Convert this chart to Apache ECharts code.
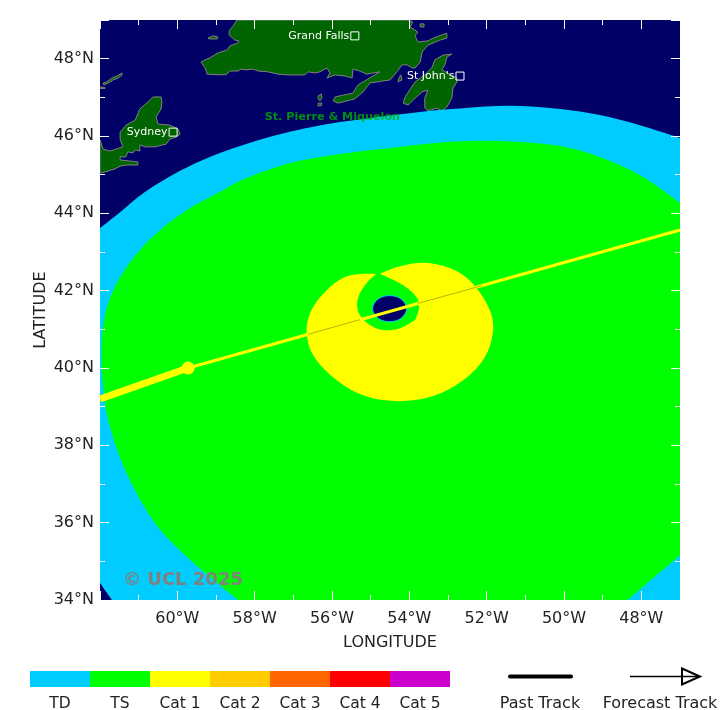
<!DOCTYPE html>
<html>
<head>
<meta charset="utf-8">
<style>
  html, body { margin: 0; padding: 0; background: #fff; }
  #chart { width: 720px; height: 710px; }
</style>
<script src="https://cdn.jsdelivr.net/npm/echarts@6/dist/echarts.min.js"></script>
</head>
<body>
<div id="chart"></div>
<script>
// wind swath contours, [lon, lat]
const tdSwath = [[-62,43.62],[-61.48,44.03],[-60.84,44.55],[-59.93,45.10],[-59.16,45.46],[-58.38,45.74],[-57.53,46.00],[-56.65,46.21],[-55.79,46.36],[-54.50,46.53],[-53.39,46.66],[-52.61,46.72],[-51.40,46.78],[-50.10,46.70],[-49.07,46.54],[-48.04,46.28],[-47,45.95],[-47,34],[-61.69,34],[-62,34.44]];
const tsSwath = [[-58.43,34],[-59.67,35.04],[-60.58,35.99],[-61.35,37.36],[-61.79,38.66],[-61.92,39.56],[-61.96,40.21],[-61.95,40.78],[-61.87,41.37],[-61.74,41.81],[-61.48,42.35],[-60.97,43.05],[-60.32,43.67],[-59.67,44.14],[-58.82,44.60],[-58.38,44.84],[-57.94,45.02],[-57.09,45.30],[-56.23,45.47],[-55.35,45.59],[-54.50,45.69],[-52.95,45.85],[-51.66,45.87],[-50.10,45.74],[-49.07,45.46],[-48.04,44.99],[-47,44.27],[-47,35.16],[-48.35,34]];
const cat1Swath = [[-54.76,42.43],[-54.32,42.61],[-53.65,42.72],[-53.03,42.61],[-52.51,42.33],[-52.10,41.84],[-51.86,41.32],[-51.84,40.91],[-51.99,40.39],[-52.35,39.90],[-52.87,39.51],[-53.47,39.25],[-54.06,39.15],[-54.68,39.17],[-55.28,39.33],[-55.79,39.62],[-56.23,40.00],[-56.52,40.39],[-56.63,40.72],[-56.65,41.11],[-56.49,41.58],[-56.13,42.02],[-55.72,42.33],[-55.28,42.43],[-54.86,42.43],[-55.10,42.20],[-55.30,41.89],[-55.35,41.63],[-55.28,41.37],[-55.02,41.11],[-54.68,40.98],[-54.24,41.03],[-53.85,41.24],[-53.75,41.55],[-53.80,41.81],[-54.06,42.07],[-54.42,42.28]];
const eyeCalm = [[-54.07,41.53],[-54.13,41.37],[-54.29,41.24],[-54.51,41.20],[-54.73,41.24],[-54.89,41.37],[-54.95,41.53],[-54.89,41.70],[-54.73,41.83],[-54.51,41.87],[-54.29,41.83],[-54.13,41.70]];

// land
const newfoundland = [[-58.46,49],[-58.56,48.84],[-58.66,48.72],[-58.66,48.61],[-58.51,48.48],[-58.41,48.46],[-58.43,48.41],[-58.64,48.33],[-58.72,48.22],[-58.95,48.15],[-59.16,48.02],[-59.28,47.97],[-59.39,47.91],[-59.28,47.76],[-59.23,47.60],[-58.85,47.58],[-58.72,47.60],[-58.64,47.68],[-58.43,47.68],[-58.35,47.73],[-58.25,47.71],[-58.04,47.73],[-57.91,47.68],[-57.66,47.66],[-57.40,47.60],[-57.14,47.58],[-56.96,47.58],[-56.70,47.58],[-56.62,47.66],[-56.44,47.63],[-56.31,47.66],[-56.13,47.76],[-56.05,47.63],[-56.13,47.50],[-55.92,47.58],[-55.66,47.55],[-55.48,47.50],[-55.46,47.73],[-55.28,47.68],[-55.10,47.60],[-54.76,47.66],[-55.33,47.32],[-55.46,47.11],[-55.92,47.01],[-55.97,46.91],[-55.85,46.85],[-55.41,46.96],[-55.20,47.14],[-55.02,47.37],[-54.50,47.45],[-54.32,47.66],[-54.19,47.84],[-54.06,47.84],[-53.93,47.76],[-53.85,47.76],[-53.72,47.91],[-53.67,48.17],[-53.52,48.35],[-53.21,48.48],[-53.03,48.53],[-53.03,48.66],[-53.39,48.53],[-53.52,48.46],[-53.78,48.43],[-53.85,48.59],[-53.78,48.69],[-53.98,48.82],[-53.91,48.95],[-54.03,49]];
const avalon = [[-52.90,48.12],[-53.13,48.09],[-53.34,47.97],[-53.41,47.78],[-53.60,47.58],[-53.85,47.40],[-54.11,47.01],[-54.16,46.85],[-54.03,46.80],[-53.85,46.98],[-53.67,47.14],[-53.52,47.19],[-53.60,46.98],[-53.60,46.72],[-53.52,46.65],[-53.29,46.72],[-53.16,46.65],[-53.03,46.75],[-52.90,46.98],[-52.87,47.24],[-52.77,47.40],[-52.77,47.50],[-53.16,47.71],[-53.08,47.84],[-53.03,48.04]];
const capeBreton = [[-62,45.90],[-61.92,45.66],[-61.74,45.61],[-61.59,45.66],[-61.41,45.72],[-61.48,45.92],[-61.48,46.10],[-61.33,46.28],[-61.09,46.41],[-60.97,46.70],[-60.76,46.88],[-60.63,47.01],[-60.42,47.01],[-60.40,46.88],[-60.42,46.70],[-60.55,46.49],[-60.50,46.31],[-60.19,46.28],[-59.98,46.18],[-59.93,46.05],[-60.03,45.97],[-60.19,45.92],[-60.29,45.79],[-60.58,45.72],[-60.84,45.72],[-60.97,45.77],[-60.97,45.61],[-61.09,45.64],[-61.15,45.56],[-61.28,45.59],[-61.33,45.46],[-61.48,45.46],[-61.48,45.38],[-61.02,45.33],[-61.02,45.25],[-61.33,45.25],[-61.48,45.22],[-61.61,45.15],[-61.87,45.07],[-62,45.04]];
const smallIslands = [
  [[-59.21,48.53],[-59.08,48.59],[-58.95,48.56],[-58.97,48.51],[-59.16,48.51]],
  [[-54.22,47.58],[-54.19,47.45],[-54.29,47.40],[-54.27,47.50]],
  [[-56.36,47.03],[-56.28,47.09],[-56.26,46.98],[-56.31,46.91],[-56.36,46.96]],
  [[-56.36,46.85],[-56.26,46.85],[-56.28,46.78],[-56.36,46.78]],
  [[-61.43,47.63],[-61.56,47.55],[-61.69,47.50],[-61.82,47.40],[-61.92,47.37],[-61.90,47.32],[-61.79,47.37],[-61.66,47.45],[-61.53,47.50],[-61.43,47.58]],
  [[-62,47.27],[-61.87,47.25],[-61.87,47.23],[-62,47.23]],
  [[-53.72,48.90],[-53.62,48.90],[-53.62,48.82],[-53.72,48.82]]
];

// storm track
const pastTrack = [[-62,39.20],[-59.72,40.00]];
const forecastTrack = [[-59.72,40.00],[-47,43.57]];
const trackEdgeWest = [[-56.62,40.87],[-55.28,41.25]];
const trackEdgeEast = [[-53.78,41.67],[-52.12,42.13]];
const stormNow = [[-59.72,40.00]];

// places
const cityNames = ["Grand Falls", "St John's", "Sydney"];
const cityPoints = [[-55.41,48.59],[-52.69,47.55],[-60.11,46.10]];
const regionName = "St. Pierre & Miquelon";
const regionPoint = [[-55.99,46.49]];

// axes and legend
const lonTicks = [-60, -58, -56, -54, -52, -50, -48];
const latTicks = [34, 36, 38, 40, 42, 44, 46, 48];
const categoryNames = ["TD", "TS", "Cat 1", "Cat 2", "Cat 3", "Cat 4", "Cat 5"];

const FONT = '"DejaVu Sans"';
const TEXT = '#222';
const NAVY = '#000066';
const LAND = '#006400';
const COAST = '#808080';
const categoryColors = ['#00ccff', '#00ff00', '#ffff00', '#ffcc00', '#ff6600', '#ff0000', '#cc00cc'];

// closed curve through the screen points, turns above cornerTurn stay sharp
const curvePath = (pts, cornerTurn) => {
  const n = pts.length;
  const tangents = pts.map((p, i) => {
    const a = pts[(i - 1 + n) % n];
    const b = pts[(i + 1) % n];
    const turn = Math.abs(Math.atan2(
      (p[0] - a[0]) * (b[1] - p[1]) - (p[1] - a[1]) * (b[0] - p[0]),
      (p[0] - a[0]) * (b[0] - p[0]) + (p[1] - a[1]) * (b[1] - p[1])
    ));
    if (turn > cornerTurn) {
      return [0, 0];
    }
    const len = Math.hypot(b[0] - a[0], b[1] - a[1]);
    return [(b[0] - a[0]) / len, (b[1] - a[1]) / len];
  });
  let d = 'M' + pts[0][0] + ' ' + pts[0][1];
  pts.forEach((p, i) => {
    const j = (i + 1) % n;
    const q = pts[j];
    const k = Math.hypot(q[0] - p[0], q[1] - p[1]) / 3;
    d += 'C' + (p[0] + tangents[i][0] * k) + ' ' + (p[1] + tangents[i][1] * k) + ' '
      + (q[0] - tangents[j][0] * k) + ' ' + (q[1] - tangents[j][1] * k) + ' ' + q[0] + ' ' + q[1];
  });
  return d + 'Z';
};

// a filled shape in lon/lat, placed with the chart's own axes
const shapeSeries = (points, fill, stroke, lineWidth, cornerTurn) => {
  return {
    type: 'custom',
    clip: true,
    silent: true,
    animation: false,
    encode: { x: 0, y: 1 },
    data: points,
    renderItem: function (params, api) {
      if (params.dataIndex !== 0) {
        return;
      }
      const pts = points.map(p => api.coord(p));
      const style = { fill: fill, stroke: stroke || null, lineWidth: lineWidth || 0 };
      if (cornerTurn) {
        return { type: 'path', shape: { pathData: curvePath(pts, cornerTurn) }, style: style };
      }
      return { type: 'polygon', shape: { points: pts }, style: style };
    }
  };
};

const lineSeries = (points, color, width) => {
  return {
    type: 'line',
    data: points,
    symbol: 'none',
    silent: true,
    animation: false,
    lineStyle: { color: color, width: width, cap: 'butt' }
  };
};

const lonAxis = (position, showText) => {
  return {
    type: 'value',
    position: position,
    min: -62,
    max: -47,
    interval: 2,
    z: 10,
    name: showText ? 'LONGITUDE' : '',
    nameLocation: 'middle',
    nameGap: 35,
    nameMoveOverlap: false,
    nameTextStyle: { fontFamily: FONT, fontSize: 16, color: TEXT },
    splitLine: { show: false },
    axisLine: { show: false },
    axisTick: { show: true, inside: true, length: 9, lineStyle: { color: '#fff', width: 1 } },
    minorTick: { show: true, splitNumber: 2, length: 5, lineStyle: { color: '#fff', width: 1 } },
    axisLabel: {
      show: showText,
      margin: 11,
      fontFamily: FONT,
      fontSize: 16,
      color: TEXT,
      formatter: v => lonTicks.includes(v) ? Math.abs(v) + '°W' : ''
    }
  };
};

const latAxis = (position, showText) => {
  return {
    type: 'value',
    position: position,
    min: 34,
    max: 49,
    interval: 2,
    z: 10,
    name: showText ? 'LATITUDE' : '',
    nameLocation: 'middle',
    nameGap: 51,
    nameMoveOverlap: false,
    nameTextStyle: { fontFamily: FONT, fontSize: 16, color: TEXT },
    splitLine: { show: false },
    axisLine: { show: false },
    axisTick: { show: true, inside: true, length: 9, lineStyle: { color: '#fff', width: 1 } },
    minorTick: { show: true, splitNumber: 2, length: 5, lineStyle: { color: '#fff', width: 1 } },
    axisLabel: {
      show: showText,
      margin: 6,
      padding: [2, 0, 0, 0],
      fontFamily: FONT,
      fontSize: 16,
      color: TEXT,
      verticalAlignMinLabel: 'middle',
      verticalAlignMaxLabel: 'middle',
      formatter: v => latTicks.includes(v) ? v + '°N' : ''
    }
  };
};

let series = [];
[newfoundland, avalon, capeBreton].concat(smallIslands).forEach(shape => {
  series.push(shapeSeries(shape, LAND, COAST, 1));
});
series.push(shapeSeries(tdSwath, categoryColors[0], null, 0, 0.6));
series.push(shapeSeries(tsSwath, categoryColors[1], null, 0, 0.6));
series.push(shapeSeries(cat1Swath, categoryColors[2], null, 0, 0.6));
series.push(shapeSeries(eyeCalm, NAVY, categoryColors[0], 1, Math.PI));
series.push(lineSeries(pastTrack, categoryColors[2], 7));
series.push(lineSeries(forecastTrack, categoryColors[2], 3));
series.push(lineSeries(trackEdgeWest, '#b4b400', 1));
series.push(lineSeries(trackEdgeEast, '#b4b400', 1));
series.push({
  type: 'scatter',
  data: stormNow,
  symbolSize: 13,
  silent: true,
  animation: false,
  itemStyle: { color: categoryColors[2], opacity: 1 }
});
series.push({
  type: 'scatter',
  data: cityPoints,
  symbol: 'rect',
  symbolSize: 8,
  silent: true,
  animation: false,
  itemStyle: { color: 'rgba(0,0,0,0)', borderColor: '#fff', borderWidth: 1, opacity: 1 },
  label: {
    show: true,
    position: 'left',
    distance: 1,
    fontFamily: FONT,
    fontSize: 11,
    color: '#fff',
    formatter: p => cityNames[p.dataIndex]
  }
});
series.push({
  type: 'scatter',
  data: regionPoint,
  symbolSize: 0,
  silent: true,
  animation: false,
  label: {
    show: true,
    position: 'inside',
    fontFamily: FONT,
    fontSize: 11.2,
    fontWeight: 'bold',
    color: '#00b000',
    formatter: regionName
  }
});

// legend strip under the map
const legendText = (text, x, size) => {
  return {
    type: 'text',
    x: x,
    y: 704,
    style: { text: text, font: size + 'px ' + FONT, fill: TEXT, textAlign: 'center', textVerticalAlign: 'middle' }
  };
};
let legendGraphics = [];
categoryNames.forEach((name, i) => {
  legendGraphics.push({
    type: 'rect',
    left: 30 + 60 * i,
    top: 671,
    shape: { width: 60, height: 16 },
    style: { fill: categoryColors[i] }
  });
  legendGraphics.push(legendText(name, 60 + 60 * i, 15.5));
});
legendGraphics.push({
  type: 'line',
  shape: { x1: 510, y1: 676.5, x2: 571, y2: 676.5 },
  style: { stroke: '#000', lineWidth: 4, lineCap: 'round' }
});
legendGraphics.push(legendText('Past Track', 540, 16));
legendGraphics.push({
  type: 'line',
  shape: { x1: 630, y1: 676.5, x2: 699, y2: 676.5 },
  style: { stroke: '#000', lineWidth: 1.5 }
});
legendGraphics.push({
  type: 'polygon',
  shape: { points: [[682, 668.5], [700, 676.5], [682, 684.5]] },
  style: { fill: 'none', stroke: '#000', lineWidth: 2 }
});
legendGraphics.push(legendText('Forecast Track', 660, 16));
legendGraphics.push({
  type: 'text',
  x: 123,
  y: 580,
  z: 20,
  style: { text: '© UCL 2025', font: 'bold 18px ' + FONT, fill: '#808080', textAlign: 'left', textVerticalAlign: 'middle' }
});

const chart = echarts.init(document.getElementById('chart'), null, { renderer: 'canvas' });
chart.setOption({
  animation: false,
  backgroundColor: '#fff',
  grid: {
    left: 100,
    top: 20,
    width: 580,
    height: 580,
    show: true,
    backgroundColor: NAVY,
    borderWidth: 0
  },
  xAxis: [lonAxis('bottom', true), lonAxis('top', false)],
  yAxis: [latAxis('left', true), latAxis('right', false)],
  graphic: { elements: legendGraphics },
  series: series
});
</script>
</body>
</html>
